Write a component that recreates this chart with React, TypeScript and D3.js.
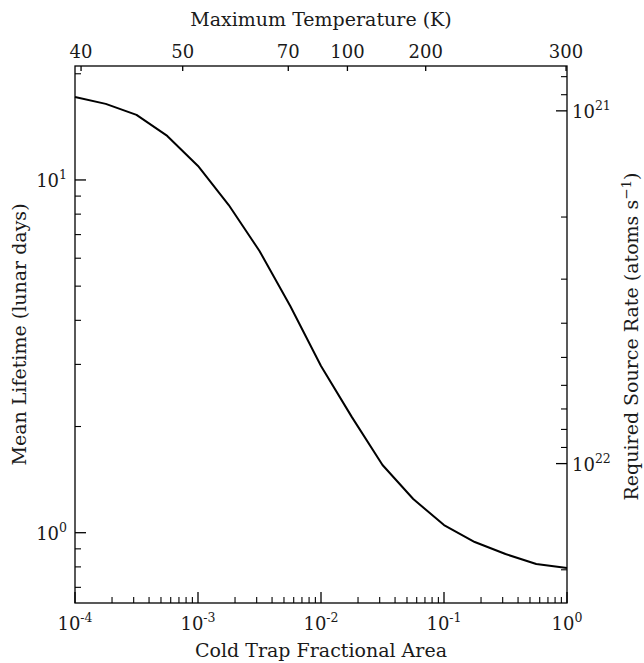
import React from "react";
import * as d3 from "d3";

// Curve data: cold trap fractional area vs mean lifetime (lunar days)
const areaExponents = [-4, -3.75, -3.5, -3.25, -3, -2.75, -2.5, -2.25, -2, -1.75, -1.5, -1.25, -1, -0.75, -0.5, -0.25, 0];
const lifetimes = [17.19, 16.43, 15.29, 13.33, 10.96, 8.49, 6.29, 4.39, 2.97, 2.13, 1.556, 1.246, 1.051, 0.941, 0.87, 0.815, 0.794];

// Top axis: maximum temperature ticks and the fractional area they correspond to
const tempTicks = [40, 50, 70, 100, 200, 300];
const tempTickAreas = [1.12e-4, 7.51e-4, 5.42e-3, 1.64e-2, 7.1e-2, 0.982];

// Bottom axis ticks
const xMajorExp = [-4, -3, -2, -1, 0];
// Left axis ticks
const yMajorExp = [0, 1];
// Right axis: source rate = K / lifetime
const rateConstant = 1.57e22;
const rateMajorExp = [21, 22];

const xDomain = [1e-4, 1];
const yDomain = [0.632, 21.04];

const W = 644, H = 663;
const L = 75, R = 567, T = 66, B = 603;
const MAJ = 11, MIN = 6, TOPT = 5;
const FONT = "'DejaVu Serif', 'Liberation Serif', serif";
const TICKFS = 18, SUPFS = 12.5, LABFS = 19;

export default function App() {
  const x = d3.scaleLog().domain(xDomain).range([L, R]);
  const y = d3.scaleLog().domain(yDomain).range([B, T]);
  const yR = d3.scaleLog().domain([rateConstant / yDomain[0], rateConstant / yDomain[1]]).range([B, T]);

  const data = areaExponents.map((e, i) => ({ a: Math.pow(10, e), v: lifetimes[i] }));
  const line = d3.line<{ a: number; v: number }>().x(d => x(d.a)).y(d => y(d.v));

  const xMinor: number[] = [];
  for (let e = -4; e < 0; e++) for (let k = 2; k <= 9; k++) xMinor.push(k * Math.pow(10, e));

  const yMinor: number[] = [];
  for (let e = -1; e <= 1; e++) for (let k = 2; k <= 9; k++) {
    const v = k * Math.pow(10, e);
    if (v >= yDomain[0] && v <= yDomain[1]) yMinor.push(v);
  }
  const rLo = rateConstant / yDomain[1], rHi = rateConstant / yDomain[0];
  const rMinor: number[] = [];
  for (let e = 20; e <= 22; e++) for (let k = 2; k <= 9; k++) {
    const v = k * Math.pow(10, e);
    if (v >= rLo && v <= rHi) rMinor.push(v);
  }

  const stroke = "#000";
  const txt = { fontFamily: FONT, fill: "#1a1a1a" } as React.CSSProperties;
  return (
    <svg width={W} height={H} style={{ position: "absolute", left: 0, top: 0, background: "#fff" }}>
      <rect x={0} y={0} width={W} height={H} fill="#fff" />
      {/* curve */}
      <path d={line(data) || ""} fill="none" stroke={stroke} strokeWidth={2} strokeLinejoin="round" />

      {/* bottom ticks */}
      {xMajorExp.map(e => {
        const px = x(Math.pow(10, e));
        return (
          <g key={"xb" + e}>
            <line x1={px} x2={px} y1={B} y2={B - MAJ} stroke={stroke} strokeWidth={1.3} />
            <text x={px} y={630} fontSize={TICKFS} textAnchor="middle" style={txt}>
              10<tspan dy={-8} fontSize={SUPFS}>{e === 0 ? "0" : "-" + Math.abs(e)}</tspan>
            </text>
          </g>
        );
      })}
      {xMinor.map((v, i) => (
        <line key={"xm" + i} x1={x(v)} x2={x(v)} y1={B} y2={B - MIN} stroke={stroke} strokeWidth={1.1} />
      ))}

      {/* left ticks */}
      {yMajorExp.map(e => {
        const py = y(Math.pow(10, e));
        return (
          <g key={"yl" + e}>
            <line x1={L} x2={L + MAJ} y1={py} y2={py} stroke={stroke} strokeWidth={1.3} />
            <text x={67} y={py + 7} fontSize={TICKFS} textAnchor="end" style={txt}>
              10<tspan dy={-8} fontSize={SUPFS}>{e}</tspan>
            </text>
          </g>
        );
      })}
      {yMinor.map((v, i) => (
        <line key={"ym" + i} x1={L} x2={L + MIN} y1={y(v)} y2={y(v)} stroke={stroke} strokeWidth={1.1} />
      ))}

      {/* right ticks */}
      {rateMajorExp.map(e => {
        const py = yR(Math.pow(10, e));
        return (
          <g key={"yr" + e}>
            <line x1={R} x2={R - MAJ} y1={py} y2={py} stroke={stroke} strokeWidth={1.3} />
            <text x={572} y={py + 7} fontSize={TICKFS} textAnchor="start" style={txt}>
              10<tspan dy={-8} fontSize={SUPFS}>{e}</tspan>
            </text>
          </g>
        );
      })}
      {rMinor.map((v, i) => (
        <line key={"rm" + i} x1={R} x2={R - MIN} y1={yR(v)} y2={yR(v)} stroke={stroke} strokeWidth={1.1} />
      ))}

      {/* top ticks */}
      {tempTicks.map((t, i) => {
        const px = x(tempTickAreas[i]);
        return (
          <g key={"t" + t}>
            <line x1={px} x2={px} y1={T} y2={T + TOPT} stroke={stroke} strokeWidth={1.3} />
            <text x={px} y={58} fontSize={TICKFS} textAnchor="middle" style={txt}>{t}</text>
          </g>
        );
      })}

      {/* frame */}
      <rect x={L} y={T} width={R - L} height={B - T} fill="none" stroke={stroke} strokeWidth={1.3} />

      {/* axis labels */}
      <text x={(L + R) / 2} y={657} fontSize={LABFS} textAnchor="middle" style={txt}>Cold Trap Fractional Area</text>
      <text x={(L + R) / 2} y={26} fontSize={LABFS} textAnchor="middle" style={txt}>Maximum Temperature (K)</text>
      <text transform={`translate(26,${(T + B) / 2}) rotate(-90)`} fontSize={LABFS} textAnchor="middle" style={txt}>Mean Lifetime (lunar days)</text>
      <text transform={`translate(638,${(T + B) / 2 + 2}) rotate(-90)`} fontSize={LABFS} textAnchor="middle" style={txt}>
        Required Source Rate (atoms s<tspan dy={-7} fontSize={SUPFS + 1}>−1</tspan><tspan dy={7}>)</tspan>
      </text>
    </svg>
  );
}
